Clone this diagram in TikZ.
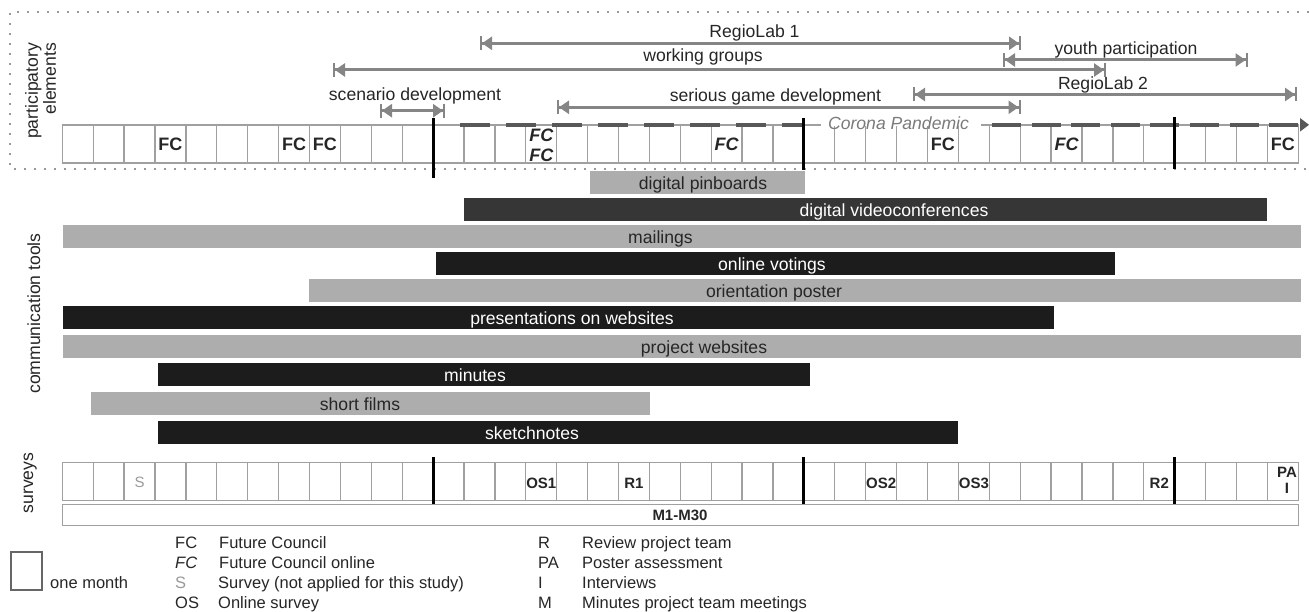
\documentclass[tikz,border=0pt]{standalone}
\usepackage{fontspec}
\setmainfont{Liberation Sans}
\usetikzlibrary{arrows.meta}
\definecolor{arrgray}{HTML}{858585}
\definecolor{cellgray}{HTML}{A0A0A0}
\definecolor{dotgray}{HTML}{9A9A9A}
\definecolor{lightbar}{HTML}{ADADAD}
\definecolor{darkbar}{HTML}{363636}
\definecolor{blackbar}{HTML}{1C1C1C}
\definecolor{txtdark}{HTML}{262626}
\definecolor{coronagray}{HTML}{7A7A7A}
\definecolor{dashgray}{HTML}{585858}
\definecolor{sgray}{HTML}{9A9A9A}
\newcommand\szA{\fontsize{17.6bp}{18bp}\selectfont}
\newcommand\szL{\fontsize{16.5bp}{19bp}\selectfont}
\newcommand\szS{\fontsize{15bp}{16bp}\selectfont}
\newcommand\szF{\fontsize{18bp}{20bp}\selectfont}
\newcommand\cbar[8]{%
  \fill[#2] (#3,#5) rectangle (#4,#6);
  \node[#2txt, anchor=base] (#1) at (#7,{(#5+#6)/2+6.8}) {#8};}
\begin{document}
\begin{tikzpicture}[x=1bp,y=-1bp,
  span/.style={draw=arrgray, line width=3bp,
    {Bar[width=14bp,line width=2bp,sep=0bp]Triangle[length=10bp,width=13bp,sep=0bp]}-{Triangle[length=10bp,width=13bp,sep=0bp]Bar[width=14bp,line width=2bp,sep=0bp]}},
  spantxt/.style={font=\szA, text=txtdark, inner sep=0pt, anchor=base},
  cell/.style={draw=cellgray, line width=1.3bp},
  month/.style={draw=black, line width=3bp},
  fclab/.style={font=\szF\bfseries, text=txtdark, inner sep=0pt},
  svlab/.style={font=\szS\bfseries, text=txtdark, inner sep=0pt},
  leg/.style={font=\szL, text=txtdark, inner sep=0pt, anchor=base west},
  side/.style={font=\szA, text=txtdark, inner sep=0pt, rotate=90},
  lb/.style={fill=lightbar},
  db/.style={fill=darkbar},
  kb/.style={fill=blackbar},
  lbtxt/.style={font=\szA, text=txtdark, inner sep=0pt},
  dbtxt/.style={font=\szA, text=white, inner sep=0pt},
  kbtxt/.style={font=\szA, text=white, inner sep=0pt},
  cdash/.style={draw=dashgray, line width=3.5bp}
]
\useasboundingbox (0,0) rectangle (1309,612);

% dotted frame of participatory elements
\draw[dotgray, line width=2.2bp, dash pattern=on 2.2bp off 7.8bp] (1309,12) -- (10,12) -- (10,169) -- (1309,169);

% side labels
\node[side, align=right] (lpart) at (40.5,91) {participatory\\elements};
\node[side, anchor=base] (lcomm) at (40,313.5) {communication tools};
\node[side, anchor=base] (lsurv) at (33,483) {surveys};

% top timeline cells
\foreach \i in {0,...,39}
  \draw[cell] ({62.3+\i*30.9},125) rectangle ++(30.9,38);
% gap for Corona Pandemic label
\fill[white] (821,123.6) rectangle (981,126.4);

% corona dashes
\draw[cdash, dash pattern=on 30bp off 16bp] (460,124.8) -- (805,124.8);
\draw[cdash, dash pattern=on 29bp off 10.6bp] (992,124.8) -- (1300,124.8);
\fill[dashgray] (1300,118) -- (1309,124.8) -- (1300,131.6) -- cycle;
\node[font=\szA\itshape, text=coronagray, inner sep=0pt, anchor=base] (corona) at (898.5,129.3) {Corona Pandemic};

% year separators (top)
\draw[month] (433.1,118) -- (433.1,178);
\draw[month] (803.9,118) -- (803.9,170);
\draw[month] (1174.7,117) -- (1174.7,169);

% FC labels
\node[fclab] (fc3)  at ({62.3+3.5*30.9},144.5) {FC};
\node[fclab] (fc7)  at ({62.3+7.5*30.9},144.5) {FC};
\node[fclab] (fc8)  at ({62.3+8.5*30.9},144.5) {FC};
\node[fclab, align=center, font=\fontsize{18bp}{20bp}\selectfont\bfseries\itshape] (fc15) at ({62.3+15.5*30.9},145) {FC\\FC};
\node[fclab, font=\szF\bfseries\itshape] (fc21) at ({62.3+21.5*30.9},144.5) {FC};
\node[fclab] (fc28) at ({62.3+28.5*30.9},144.5) {FC};
\node[fclab, font=\szF\bfseries\itshape] (fc32) at ({62.3+32.5*30.9},144.5) {FC};
\node[fclab] (fc39) at ({62.3+39.5*30.9},144.5) {FC};

% participatory spans
\coordinate (rl1a) at (480,43.3);   \coordinate (rl1b) at (1021,43.3);
\coordinate (wga) at (333,70);      \coordinate (wgb) at (1106,70);
\coordinate (ypa) at (1003,60);     \coordinate (ypb) at (1247.5,60);
\coordinate (rl2a) at (913,94.5);   \coordinate (rl2b) at (1297,94.5);
\coordinate (sga) at (557,107.3);   \coordinate (sgb) at (1020.5,107.3);
\coordinate (sda) at (380,110.7);   \coordinate (sdb) at (445,110.7);
\draw[span] (rl1a) -- (rl1b);
\draw[span] (wga) -- (wgb);
\draw[span] (ypa) -- (ypb);
\draw[span] (rl2a) -- (rl2b);
\draw[span] (sga) -- (sgb);
\draw[span] (sda) -- (sdb);
\node[spantxt] (trl1) at (754.5,37.5) {RegioLab 1};
\node[spantxt] (twg) at (703,62) {working groups};
\node[spantxt] (typ) at (1126,54.5) {youth participation};
\node[spantxt] (trl2) at (1103,90) {RegioLab 2};
\node[spantxt] (tsg) at (775.5,101.7) {serious game development};
\node[spantxt] (tsd) at (415,100.3) {scenario development};

% communication tool bars
\cbar{pin}{lb}{590}{805}{171}{194.3}{703}{digital pinboards}
\cbar{video}{db}{464}{1267}{197.7}{221}{894}{digital videoconferences}
\cbar{mail}{lb}{63}{1301}{225}{247.7}{660.5}{mailings}
\cbar{vote}{kb}{436}{1115}{252.3}{275}{772}{online votings}
\cbar{poster}{lb}{309}{1301}{279}{301.7}{774}{orientation poster}
\cbar{pres}{kb}{63}{1053.5}{306}{329.3}{572}{presentations on websites}
\cbar{web}{lb}{63}{1301}{335}{357.7}{704}{project websites}
\cbar{minutes}{kb}{158}{810}{362.7}{385.7}{475}{minutes}
\cbar{films}{lb}{91}{650}{392}{415}{360}{short films}
\cbar{sketch}{kb}{158}{958}{421}{444.3}{532}{sketchnotes}

% survey cells
\foreach \i in {0,...,39}
  \draw[cell] ({62.3+\i*30.9},462.3) rectangle ++(30.9,38.4);
\draw[cell] (62.3,504.3) rectangle (1298.3,525.8);
\draw[month] (433.1,457) -- (433.1,504);
\draw[month] (803.9,457) -- (803.9,504);
\draw[month] (1174.7,457) -- (1174.7,504);

\node[font=\szS, text=sgray, inner sep=0pt] (sv2) at ({62.3+2.5*30.9},482.5) {S};
\node[svlab] (sv15) at ({62.3+15.5*30.9},483) {OS1};
\node[svlab] (sv18) at ({62.3+18.5*30.9},483) {R1};
\node[svlab] (sv26) at ({62.3+26.5*30.9},483) {OS2};
\node[svlab] (sv29) at ({62.3+29.5*30.9},483) {OS3};
\node[svlab] (sv35) at ({62.3+35.5*30.9},483) {R2};
\node[svlab, align=center, font=\fontsize{15bp}{16bp}\selectfont\bfseries] (sv39) at (1287,480.5) {PA\\I};
\node[svlab] (mbox) at (680,515.3) {M1-M30};

% legend
\draw[draw=black!60, line width=1.3bp] (11,552) rectangle (42,590);
\node[leg] (lmonth) at (50,588) {one month};
\node[leg] (k1) at (175,548) {FC};
\node[leg] (d1) at (219,548) {Future Council};
\node[leg] (k2) at (175,568) {\itshape FC};
\node[leg] (d2) at (219,568) {Future Council online};
\node[leg, text=sgray] (k3) at (175,588.5) {S};
\node[leg] (d3) at (218,588.5) {Survey (not applied for this study)};
\node[leg] (k4) at (175,608.5) {OS};
\node[leg] (d4) at (218,608.5) {Online survey};
\node[leg] (k5) at (538,548) {R};
\node[leg] (d5) at (582,548) {Review project team};
\node[leg] (k6) at (538,568) {PA};
\node[leg] (d6) at (582,568) {Poster assessment};
\node[leg] (k7) at (538,588.5) {I};
\node[leg] (d7) at (582,588.5) {Interviews};
\node[leg] (k8) at (538,608.5) {M};
\node[leg] (d8) at (582,608.5) {Minutes project team meetings};
\end{tikzpicture}
\end{document}
